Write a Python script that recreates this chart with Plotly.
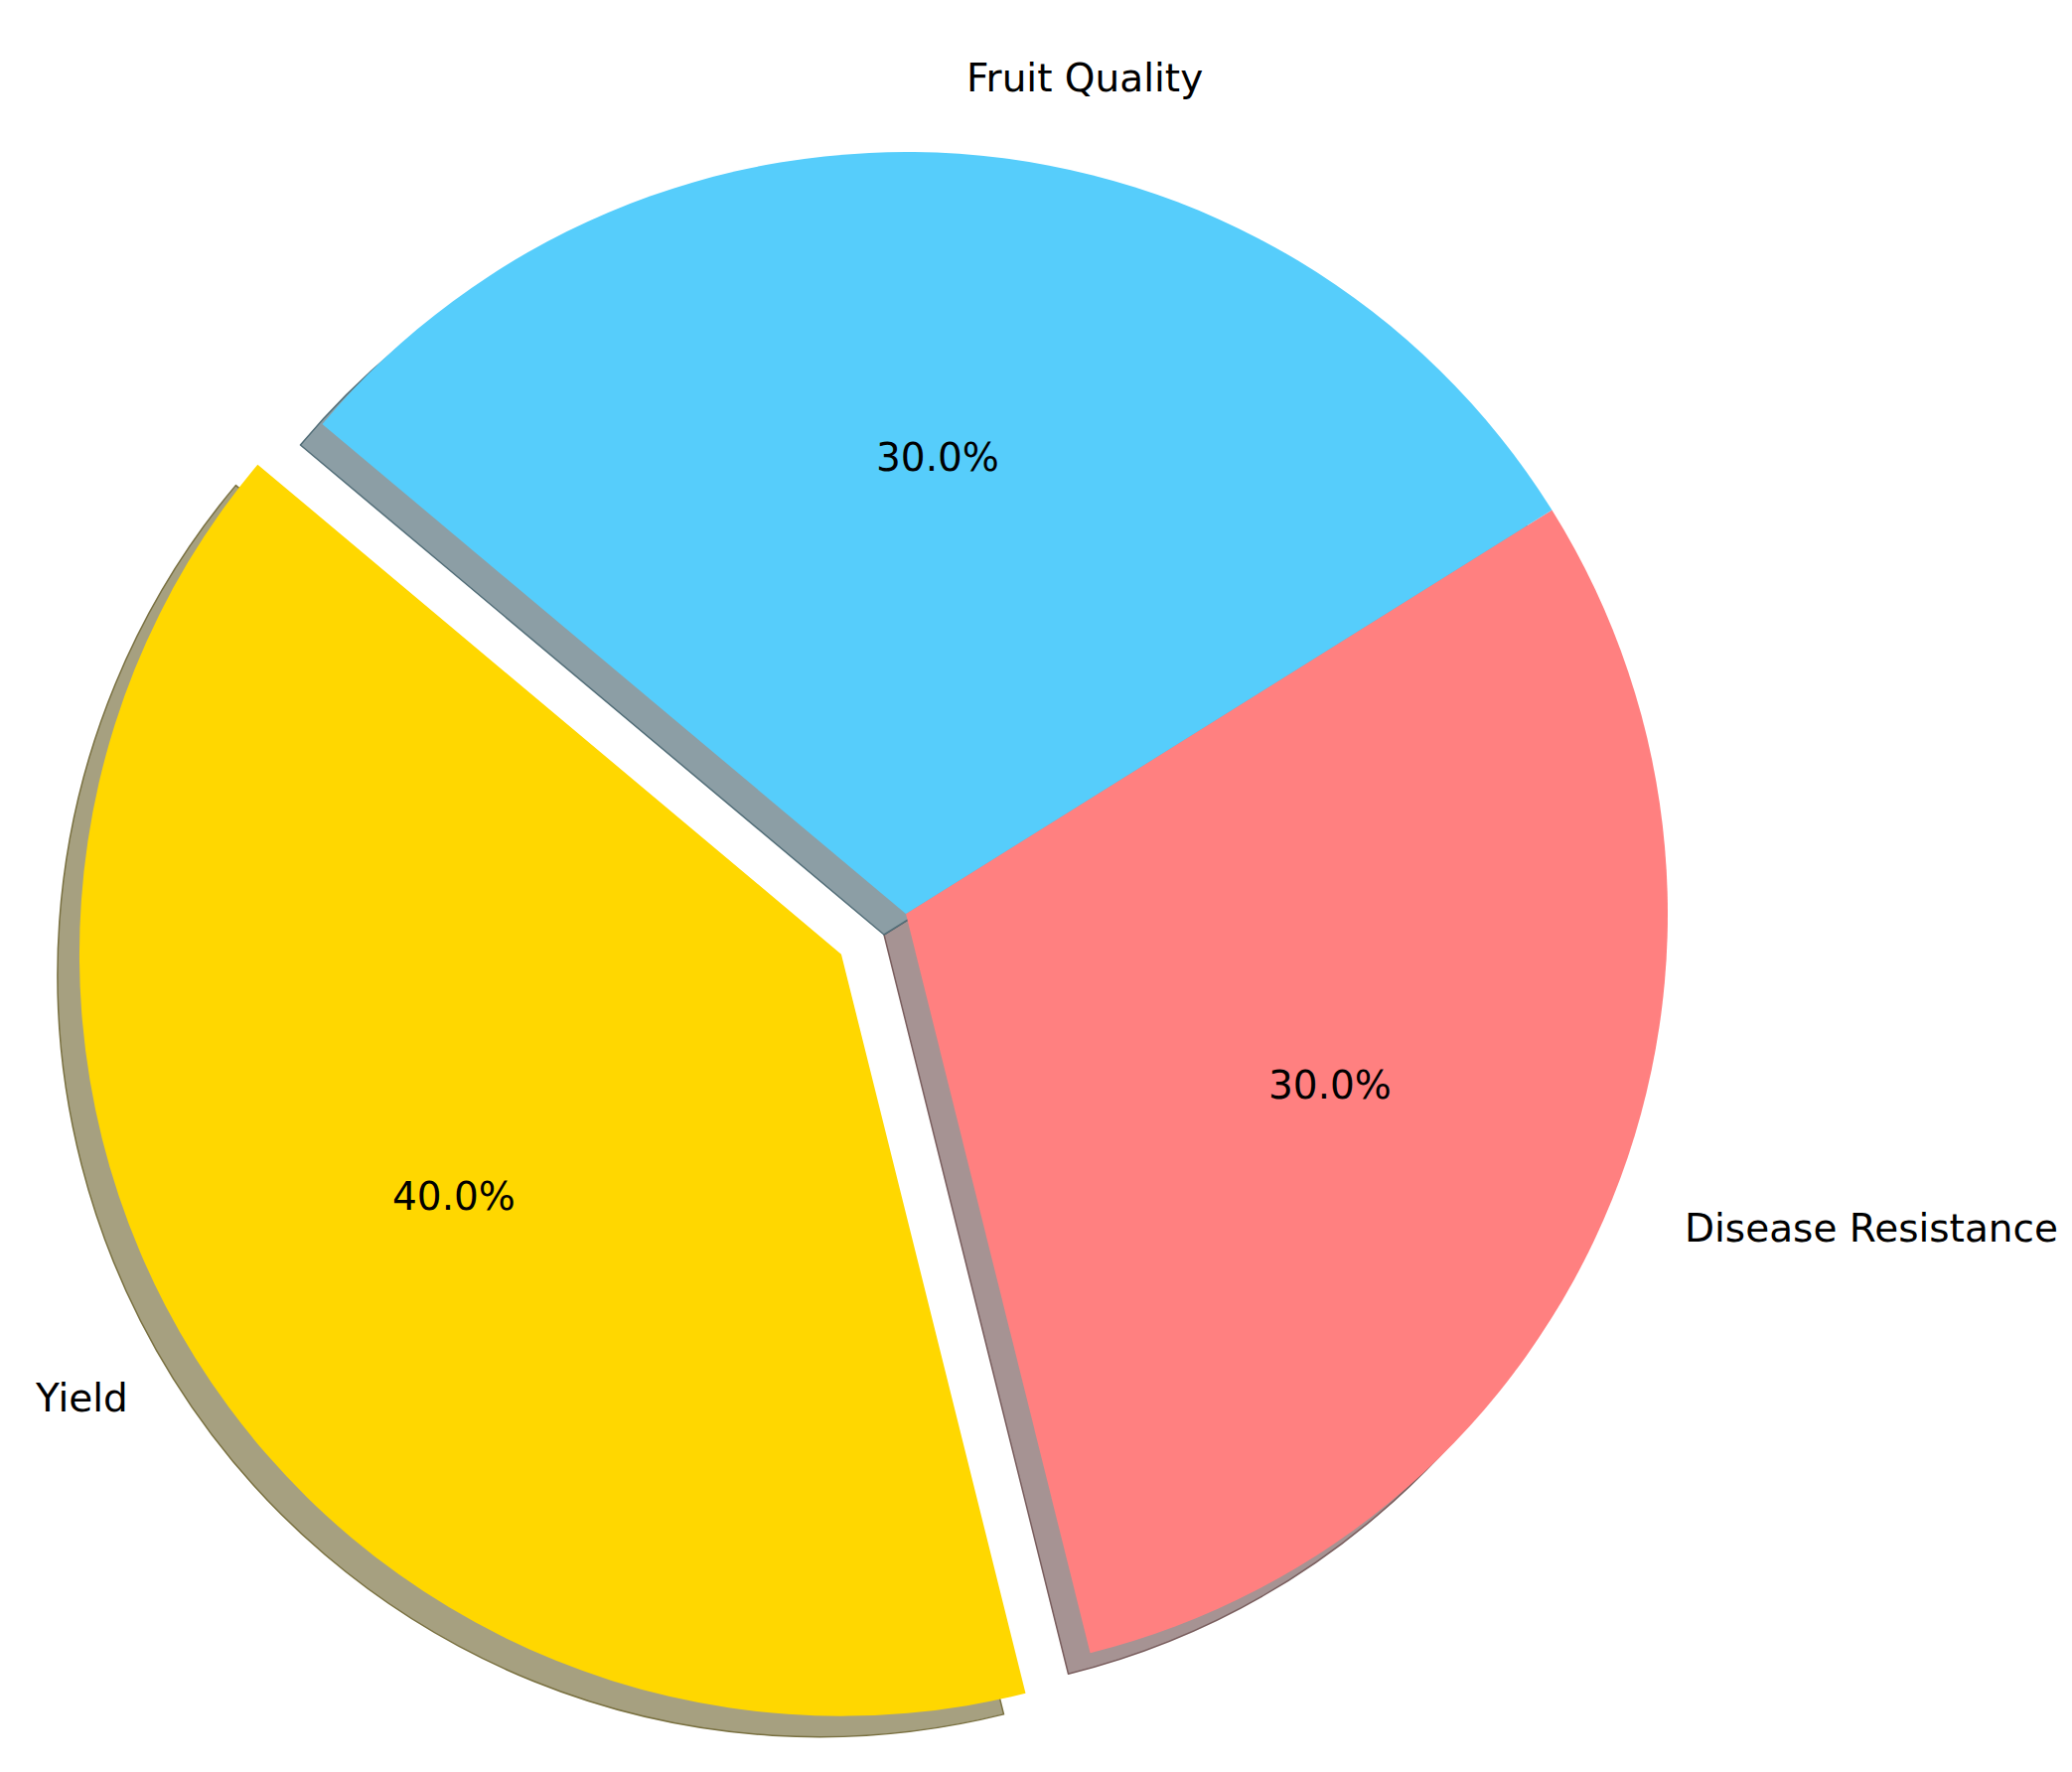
import math
import plotly.graph_objects as go

labels = ['Yield', 'Disease Resistance', 'Fruit Quality']
shares = [40, 30, 30]
colors = ['#FFD700', '#FF8080', '#56CDFB']
explode = [0.1, 0, 0]
start_angle = 140  # degrees, counter-clockwise from 3 o'clock

W, H = 2086, 1784
cx, cy, r = 904, 912, 767   # pie centre / radius in px (page adds an 8px body margin)
sx, sy = -22, 21            # shadow offset in px


def rgb(c):
    return [int(c[i:i + 2], 16) for i in (1, 3, 5)]


def shadow(c):
    # 30% of the colour at alpha 0.5 over white
    return [0.5 * 0.3 * v + 0.5 * 255 for v in rgb(c)]


def edge(c):
    s = shadow(c)
    return [0.5 * 0.3 * v + 0.5 * b for v, b in zip(rgb(c), s)]


def css(vals):
    return 'rgb(%d,%d,%d)' % tuple(round(v) for v in vals)


def domain(x0, y0):
    half = r * (1 + max(explode))
    return dict(x=[(x0 - half) / W, (x0 + half) / W],
                y=[1 - (y0 + half) / H, 1 - (y0 - half) / H])


total = sum(shares)
# plotly ccw pies end the first slice at `rotation` (clockwise from 12 o'clock)
rot = 90 - (start_angle + 360 * shares[0] / total)

fig = go.Figure()
fig.add_trace(go.Pie(labels=labels, values=shares, sort=False, direction='counterclockwise',
                     rotation=rot, pull=explode, textinfo='none', hoverinfo='skip',
                     marker=dict(colors=[css(shadow(c)) for c in colors],
                                 line=dict(color=[css(edge(c)) for c in colors], width=1.5)),
                     domain=domain(cx + sx, cy + sy)))
fig.add_trace(go.Pie(labels=labels, values=shares, sort=False, direction='counterclockwise',
                     rotation=rot, pull=explode, textinfo='none',
                     marker=dict(colors=colors, line=dict(width=0)),
                     domain=domain(cx, cy)))

font = dict(family='DejaVu Sans', size=39, color='black')
annotations = []
a0 = start_angle
for lab, v, ex in zip(labels, shares, explode):
    mid = math.radians(a0 + 180 * v / total)
    a0 += 360 * v / total
    c, s = math.cos(mid), math.sin(mid)
    ox, oy = cx + ex * r * c, cy - ex * r * s
    annotations.append(dict(x=(ox + 0.6 * r * c) / W, y=1 - (oy - 0.6 * r * s) / H,
                            text='%.1f%%' % (100 * v / total), xanchor='center', yanchor='middle'))
    annotations.append(dict(x=(ox + 1.1 * r * c) / W, y=1 - (oy - 1.1 * r * s) / H,
                            text=lab, xanchor='left' if c > 0 else 'right', yanchor='middle'))
for a in annotations:
    a.update(xref='paper', yref='paper', showarrow=False, font=font)

fig.update_layout(width=W, height=H, margin=dict(l=0, r=0, t=0, b=0),
                  paper_bgcolor='white', plot_bgcolor='white',
                  showlegend=False, annotations=annotations)

fig.write_html("out.html")
